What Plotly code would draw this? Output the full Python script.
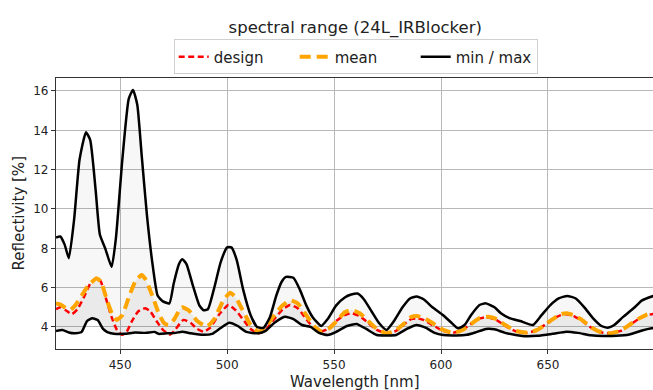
import plotly.graph_objects as go

# ---- data ----
max_x = [420, 422, 424, 426, 428.5, 431, 434, 436, 438.5, 440.5, 443, 446, 448, 451, 454, 456, 458, 460, 462.5, 465, 467.5, 470, 473, 475, 477.5, 479, 481, 484, 487, 489, 491, 494, 497, 500, 502, 504.5, 507.5, 511, 514, 517, 520, 523, 525.5, 527.5, 531, 534, 537, 540, 544, 547, 551, 555, 558, 561, 564, 567.5, 571, 574.5, 578, 582, 585.5, 588.5, 592, 596, 601, 605, 608, 611, 614, 618, 621, 625, 628, 632, 637, 643, 647, 651, 655, 659, 663, 667, 671, 675, 678, 681, 685, 690, 694, 698.5, 700]
max_y = [8.55, 8.6, 8.2, 7.5, 9.5, 12.5, 13.9, 13.5, 11.0, 8.7, 8.0, 7.05, 8.5, 12.5, 15.6, 16.05, 15.3, 12.8, 9.7, 7.3, 5.6, 5.3, 5.2, 6.2, 7.2, 7.45, 7.2, 6.1, 5.1, 4.85, 4.9, 6.0, 7.3, 8.05, 8.05, 7.4, 5.9, 4.6, 4.0, 3.95, 4.5, 5.6, 6.3, 6.55, 6.5, 5.9, 5.1, 4.5, 4.05, 4.4, 5.1, 5.5, 5.65, 5.7, 5.4, 4.8, 4.2, 3.85, 4.3, 5.0, 5.45, 5.55, 5.4, 5.0, 4.6, 4.2, 3.93, 4.1, 4.6, 5.12, 5.2, 5.0, 4.7, 4.45, 4.3, 4.1, 4.6, 5.1, 5.45, 5.58, 5.45, 5.0, 4.45, 4.05, 3.96, 4.1, 4.5, 4.95, 5.35, 5.55, 5.6]

min_x = [420, 423, 426, 429, 432, 434.5, 437, 439.5, 442, 444, 447, 452, 457, 462, 466, 468, 472, 476, 479, 483, 489, 493, 497, 501, 505, 509, 514.5, 518, 522, 527, 531, 535, 539, 543, 547, 551, 556, 560.5, 565, 570, 575, 579, 584, 588.5, 593, 597, 601, 607, 612, 616, 621, 625, 630, 638, 645, 652, 658.7, 664, 670, 676, 682, 688, 694, 698.5, 700]
min_y = [3.8, 3.85, 3.72, 3.68, 3.75, 4.3, 4.44, 4.35, 3.9, 3.74, 3.66, 3.65, 3.72, 3.7, 3.75, 3.65, 3.68, 3.7, 3.76, 3.68, 3.6, 3.65, 3.95, 4.22, 4.05, 3.75, 3.68, 3.8, 4.2, 4.52, 4.4, 4.1, 4.0, 3.7, 3.59, 3.75, 4.05, 4.15, 3.9, 3.59, 3.57, 3.59, 3.9, 4.1, 3.95, 3.7, 3.59, 3.57, 3.6, 3.72, 3.9, 3.88, 3.7, 3.54, 3.55, 3.65, 3.76, 3.7, 3.58, 3.54, 3.55, 3.62, 3.82, 3.93, 3.95]

mean_x = [420, 422, 424, 426.6, 429, 432, 435, 439, 441, 444, 446.5, 448.4, 451, 454, 457, 460, 462, 465, 468, 470.5, 472.6, 475, 478.8, 482, 486, 490.5, 494, 498, 501.4, 504, 508, 511, 514.6, 518, 522, 526, 529.5, 533, 537, 541, 544.3, 548, 552, 555, 558.3, 562, 566, 570, 574.6, 579, 583, 586, 588.6, 592, 596, 601, 605.7, 610, 614, 618, 622, 626, 630, 635, 640.8, 645, 649, 653, 656, 658.7, 662, 666, 670, 674, 679, 684, 688, 692, 696, 698.5, 700]
mean_y = [5.2, 5.15, 5.0, 4.86, 5.1, 5.6, 6.1, 6.47, 6.3, 5.3, 4.6, 4.36, 4.6, 5.5, 6.3, 6.64, 6.4, 5.6, 4.7, 4.2, 4.1, 4.35, 5.0, 4.85, 4.3, 4.02, 4.4, 5.3, 5.74, 5.5, 4.7, 4.1, 3.76, 4.0, 4.6, 5.1, 5.35, 5.2, 4.6, 4.0, 3.76, 3.95, 4.4, 4.75, 4.86, 4.7, 4.3, 3.9, 3.68, 3.85, 4.2, 4.5, 4.56, 4.45, 4.2, 3.85, 3.7, 3.85, 4.15, 4.45, 4.52, 4.4, 4.1, 3.8, 3.71, 3.85, 4.15, 4.45, 4.65, 4.7, 4.6, 4.35, 4.0, 3.77, 3.68, 3.82, 4.1, 4.4, 4.62, 4.7, 4.72]

design_x = [420, 422, 424.5, 427.4, 430, 433, 436, 439, 441, 443.5, 446, 448.5, 451, 453, 455.5, 458.5, 461.7, 464, 467, 470, 473.5, 476, 479.6, 483, 486, 489, 492, 496, 500.6, 504, 508, 511, 514.6, 518, 522, 526, 529.4, 533, 537, 540.5, 543.5, 547, 551, 555, 558.3, 562, 566, 570, 574.6, 579, 583, 586, 588.6, 592, 596, 601, 605.5, 610, 614, 618, 621, 626, 630, 635, 640, 645, 649, 653, 656, 658.5, 662, 666, 670, 674, 678, 684, 688, 692, 696, 698.5, 700]
design_y = [4.9, 5.0, 4.85, 4.65, 4.9, 5.5, 6.2, 6.5, 6.3, 5.4, 4.5, 3.85, 3.6, 3.75, 4.3, 4.8, 4.95, 4.8, 4.3, 3.85, 3.62, 3.9, 4.36, 4.2, 3.9, 3.76, 3.95, 4.6, 5.12, 4.85, 4.3, 3.9, 3.68, 3.85, 4.4, 4.9, 5.12, 4.95, 4.4, 3.95, 3.76, 3.9, 4.3, 4.6, 4.7, 4.55, 4.2, 3.85, 3.68, 3.8, 4.15, 4.4, 4.44, 4.35, 4.1, 3.8, 3.7, 3.85, 4.15, 4.42, 4.5, 4.35, 4.05, 3.78, 3.7, 3.85, 4.15, 4.45, 4.6, 4.65, 4.55, 4.3, 3.97, 3.75, 3.68, 3.8, 4.08, 4.38, 4.6, 4.65, 4.66]

x_range = [420, 699.1]
y_range = [2.88, 16.66]
x_ticks = [450, 500, 550, 600, 650]
y_ticks = [4, 6, 8, 10, 12, 14, 16]

FONT = "DejaVu Sans"
SPL = dict(shape="spline", smoothing=0.5)

fig = go.Figure()

# density-like shading (background envelopes)
fig.add_trace(go.Scatter(x=max_x, y=max_y, mode="lines", line=dict(width=0, **SPL),
                         showlegend=False, hoverinfo="skip"))
fig.add_trace(go.Scatter(x=min_x, y=min_y, mode="lines", line=dict(width=0, **SPL),
                         fill="tonexty", fillcolor="rgba(0,0,0,0.03)", showlegend=False, hoverinfo="skip"))
fig.add_trace(go.Scatter(x=mean_x, y=mean_y, mode="lines", line=dict(width=0, **SPL),
                         fill="tonexty", fillcolor="rgba(0,0,0,0.05)", showlegend=False, hoverinfo="skip"))

# lines (design, mean, min/max)
fig.add_trace(go.Scatter(x=design_x, y=design_y, mode="lines", name="design",
                         line=dict(color="#ff0000", width=2.5, dash="6px,3.5px", **SPL)))
fig.add_trace(go.Scatter(x=mean_x, y=mean_y, mode="lines", name="mean",
                         line=dict(color="#ffa500", width=4, dash="11px,6px", **SPL)))
fig.add_trace(go.Scatter(x=min_x, y=min_y, mode="lines", name="min / max", legendgroup="mm",
                         line=dict(color="black", width=2.5, **SPL)))
fig.add_trace(go.Scatter(x=max_x, y=max_y, mode="lines", name="min / max", legendgroup="mm", showlegend=False,
                         line=dict(color="black", width=2.5, **SPL)))

axis_common = dict(showgrid=True, gridcolor="#b8b8b8", gridwidth=1, showline=True, linecolor="#333333",
                   linewidth=1.2, mirror=True, ticks="outside", ticklen=4, tickcolor="#333333",
                   tickfont=dict(family=FONT, size=12, color="#222222"), zeroline=False, automargin=False)

fig.update_layout(
    width=653, height=390,
    margin=dict(l=56, r=0, t=78, b=41),
    paper_bgcolor="white", plot_bgcolor="white",
    font=dict(family=FONT, color="#222222"),
    title=dict(text="spectral range (24L_IRBlocker)", x=0.544, xanchor="center", y=0.944, yanchor="top",
               font=dict(family=FONT, size=16.5, color="#222222")),
    legend=dict(orientation="h", x=0.502, xanchor="center", y=1.013, yanchor="bottom",
                bordercolor="#d0d0d0", borderwidth=1, bgcolor="white",
                font=dict(family=FONT, size=15, color="#222222"), entrywidth=76, entrywidthmode="pixels"),
    xaxis=dict(range=x_range, tickvals=x_ticks, **axis_common),
    yaxis=dict(range=y_range, tickvals=y_ticks, **axis_common),
    annotations=[
        dict(text="Wavelength [nm]", xref="paper", yref="paper", x=0.5, y=0, yshift=-33,
             xanchor="center", yanchor="middle", showarrow=False,
             font=dict(family=FONT, size=15, color="#222222")),
        dict(text="Reflectivity [%]", xref="paper", yref="paper", x=0, y=0.5, xshift=-38,
             xanchor="center", yanchor="middle", textangle=-90, showarrow=False,
             font=dict(family=FONT, size=15, color="#222222")),
    ],
)

fig.write_html("out.html", config={"displayModeBar": False},
               post_script="document.body.style.margin='0px';document.body.style.padding='0px';")
